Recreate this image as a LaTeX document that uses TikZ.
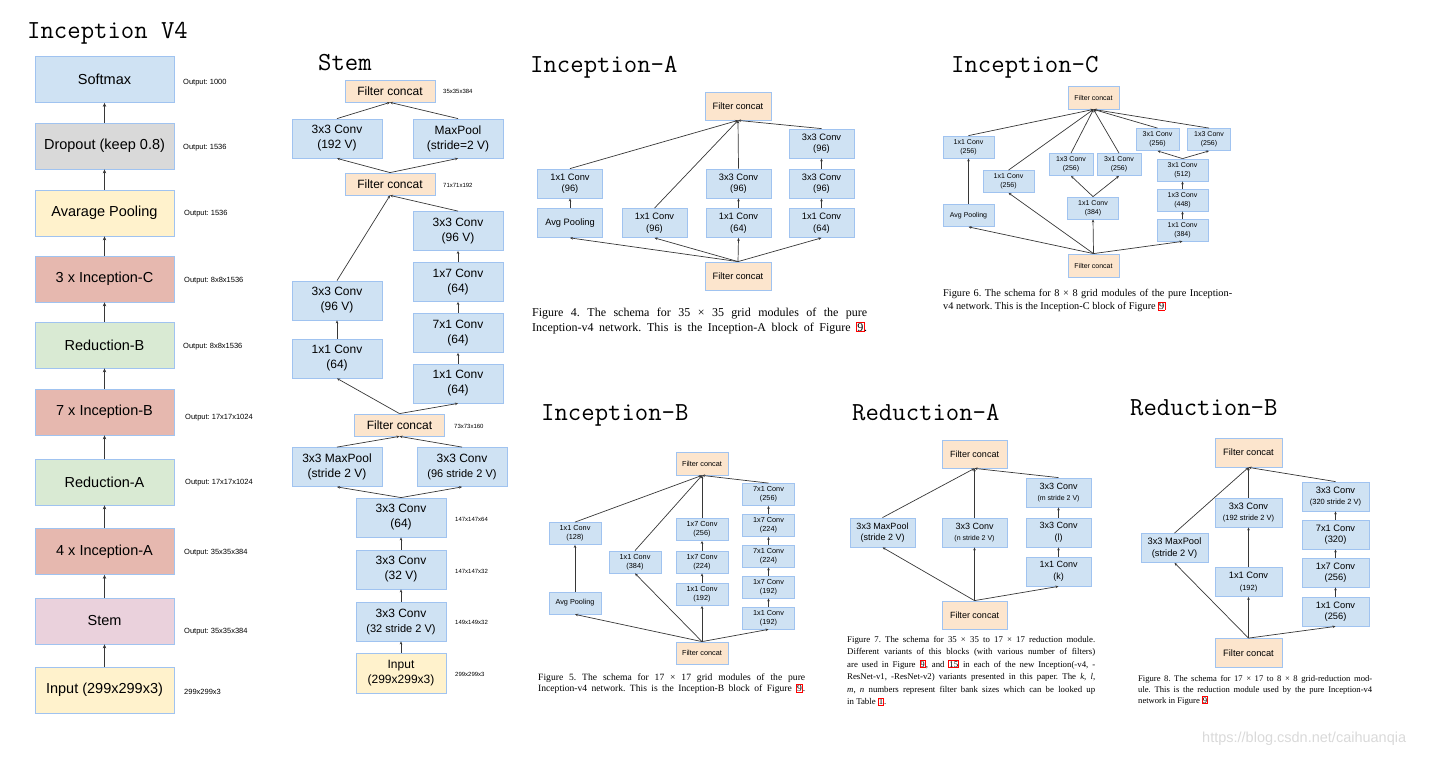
\documentclass[tikz,border=0pt]{standalone}
\usepackage{fontspec}
\setmainfont{Liberation Serif}
\setsansfont{Liberation Sans}
\usetikzlibrary{arrows.meta}
\definecolor{bordc}{RGB}{160,195,240}
\definecolor{convc}{RGB}{207,226,243}
\definecolor{catc}{RGB}{252,229,205}
\definecolor{dropc}{RGB}{217,217,217}
\definecolor{poolc}{RGB}{255,242,204}
\definecolor{incc}{RGB}{230,184,175}
\definecolor{redc}{RGB}{217,234,211}
\definecolor{stemc}{RGB}{234,209,220}
\definecolor{linec}{RGB}{55,55,55}
\frenchspacing
\newcommand{\figref}[1]{{\color{red}\fboxsep=0.3pt\fboxrule=0.6pt\fbox{\color{black}#1}}}
\newcommand{\capline}[2]{\makebox[#1][s]{#2}}
\begin{document}
\begin{tikzpicture}[x=1pt,y=-1pt,
    blk/.style={draw=bordc, line width=0.8pt, fill=convc, inner sep=0pt, align=center},
    v4box/.style={blk, minimum width=139pt, minimum height=46pt, font=\sffamily\fontsize{14.5}{17}\selectfont},
    stembox/.style={blk, minimum width=90pt, minimum height=39pt, font=\sffamily\fontsize{12}{15}\selectfont},
    abox/.style={blk, minimum width=65pt, minimum height=29pt, font=\sffamily\fontsize{9.3}{11.5}\selectfont},
    bbox/.style={blk, minimum width=52pt, minimum height=22pt, font=\sffamily\fontsize{7.3}{9}\selectfont},
    cbox/.style={blk, minimum width=51pt, minimum height=22pt, font=\sffamily\fontsize{7}{8.7}\selectfont},
    mbox/.style={blk, minimum width=65pt, minimum height=29pt, font=\sffamily\fontsize{9}{11.5}\selectfont},
    nbox/.style={blk, minimum width=67pt, minimum height=29pt, font=\sffamily\fontsize{9.3}{11.5}\selectfont},
    concat/.style={fill=catc},
    arr/.style={draw=linec, line width=0.9pt, -{Stealth[length=4pt,width=3.5pt]}},
    sarr/.style={draw=linec, line width=0.7pt, -{Stealth[length=3pt,width=2.6pt]}},
    ttl/.style={anchor=west, inner sep=0pt, font=\ttfamily\fontsize{26}{29}\selectfont},
    outl/.style={anchor=west, inner sep=0pt, font=\sffamily\fontsize{7.5}{9}\selectfont},
    szl/.style={anchor=west, inner sep=0pt, font=\sffamily\fontsize{6}{7}\selectfont},
    capt/.style={anchor=base west, inner sep=0pt}]
\useasboundingbox (0,0) rectangle (1435,757);

% titles
\node[ttl] (TV) at (27,33) {Inception V4};
\node[ttl] (TS) at (318,63) {Stem};
\node[ttl] (TA) at (530,67) {Inception-A};
\node[ttl] (TC) at (951,67) {Inception-C};
\node[ttl] (TB) at (541,415) {Inception-B};
\node[ttl] (TM) at (852,413) {Reduction-A};
\node[ttl] (TN) at (1130,408) {Reduction-B};

% Inception V4
\node[v4box] (VA) at (104.5,79.5) {Softmax};
\node[v4box, fill=dropc] (VB) at (104.5,146) {Dropout (keep 0.8)};
\node[v4box, fill=poolc] (VC) at (104.5,213) {Avarage Pooling};
\node[v4box, fill=incc] (VD) at (104.5,279) {3 x Inception-C};
\node[v4box, fill=redc] (VE) at (104.5,345) {Reduction-B};
\node[v4box, fill=incc] (VF) at (104.5,412) {7 x Inception-B};
\node[v4box, fill=redc] (VG) at (104.5,482) {Reduction-A};
\node[v4box, fill=incc] (VH) at (104.5,551.5) {4 x Inception-A};
\node[v4box, fill=stemc] (VI) at (104.5,621) {Stem};
\node[v4box, fill=poolc] (VJ) at (104.5,690) {Input (299x299x3)};

\node[outl] (VLA) at (183,83) {Output: 1000};
\node[outl] (VLB) at (183,148) {Output: 1536};
\node[outl] (VLC) at (184,214) {Output: 1536};
\node[outl] (VLD) at (184,281) {Output: 8x8x1536};
\node[outl] (VLE) at (183,347) {Output: 8x8x1536};
\node[outl] (VLF) at (185,418) {Output: 17x17x1024};
\node[outl] (VLG) at (185,483) {Output: 17x17x1024};
\node[outl] (VLH) at (184,553) {Output: 35x35x384};
\node[outl] (VLI) at (184,632) {Output: 35x35x384};
\node[outl] (VLJ) at (184,692) {299x299x3};

\draw[arr] (VJ)--(VI);
\draw[arr] (VI)--(VH);
\draw[arr] (VH)--(VG);
\draw[arr] (VG)--(VF);
\draw[arr] (VF)--(VE);
\draw[arr] (VE)--(VD);
\draw[arr] (VD)--(VC);
\draw[arr] (VC)--(VB);
\draw[arr] (VB)--(VA);

% Stem
\node[stembox, concat, minimum height=22pt] (SA) at (390,91) {Filter concat};
\node[stembox] (SB) at (337,138.5) {3x3 Conv\\(192 V)};
\node[stembox] (SC) at (458,138.5) {MaxPool\\(stride=2 V)};
\node[stembox, concat, minimum height=22pt] (SD) at (390,184) {Filter concat};
\node[stembox] (SE) at (458,231) {3x3 Conv\\(96 V)};
\node[stembox] (SF) at (458,282) {1x7 Conv\\(64)};
\node[stembox] (SG) at (458,333) {7x1 Conv\\(64)};
\node[stembox] (SH) at (458,383.5) {1x1 Conv\\(64)};
\node[stembox] (SI) at (337,300.5) {3x3 Conv\\(96 V)};
\node[stembox] (SJ) at (337,358.5) {1x1 Conv\\(64)};
\node[stembox, concat, minimum height=22pt] (SK) at (399.5,425) {Filter concat};
\node[stembox] (SL) at (337,467) {3x3 MaxPool\\(stride 2 V)};
\node[stembox] (SM) at (462,467) {3x3 Conv\\{\fontsize{11}{14}\selectfont(96 stride 2 V)}};
\node[stembox] (SN) at (401,517.5) {3x3 Conv\\(64)};
\node[stembox] (SO) at (401,569.5) {3x3 Conv\\(32 V)};
\node[stembox] (SP) at (401,621.5) {3x3 Conv\\{\fontsize{11}{14}\selectfont(32 stride 2 V)}};
\node[stembox, fill=poolc, minimum height=40pt] (SQ) at (401,673) {Input\\(299x299x3)};

\node[szl] (SLA) at (443,91) {35x35x384};
\node[szl] (SLD) at (443,185) {71x71x192};
\node[szl] (SLK) at (454,426) {73x73x160};
\node[szl] (SLN) at (455,519) {147x147x64};
\node[szl] (SLO) at (455,571) {147x147x32};
\node[szl] (SLP) at (455,622) {149x149x32};
\node[szl] (SLQ) at (455,674) {299x299x3};

\draw[sarr] (SQ)--(SP);
\draw[sarr] (SP)--(SO);
\draw[sarr] (SO)--(SN);
\draw[sarr] (SN.north)--(SL.south);
\draw[sarr] (SN.north)--(SM.south);
\draw[sarr] (SL.north)--(SK.south);
\draw[sarr] (SM.north)--(SK.south);
\draw[sarr] (SK.north)--(SJ.south);
\draw[sarr] (SK.north)--(SH.south);
\draw[sarr] (SJ)--(SI);
\draw[sarr] (SH)--(SG);
\draw[sarr] (SG)--(SF);
\draw[sarr] (SF)--(SE);
\draw[sarr] (SI.north)--(SD.south);
\draw[sarr] (SE.north)--(SD.south);
\draw[sarr] (SD.north)--(SB.south);
\draw[sarr] (SD.north)--(SC.south);
\draw[sarr] (SB.north)--(SA.south);
\draw[sarr] (SC.north)--(SA.south);

% Inception-A
\node[abox, concat, minimum width=66pt, minimum height=28pt] (AA) at (738,106) {Filter concat};
\node[abox] (AB) at (821.5,143.5) {3x3 Conv\\(96)};
\node[abox] (AC) at (570,183.5) {1x1 Conv\\(96)};
\node[abox] (AD) at (738.5,183.5) {3x3 Conv\\(96)};
\node[abox] (AE) at (821.5,183.5) {3x3 Conv\\(96)};
\node[abox] (AF) at (570,223) {Avg Pooling};
\node[abox] (AG) at (654.5,223) {1x1 Conv\\(96)};
\node[abox] (AH) at (738.5,223) {1x1 Conv\\(64)};
\node[abox] (AI) at (821.5,223) {1x1 Conv\\(64)};
\node[abox, concat, minimum width=66pt, minimum height=28pt] (AJ) at (738,276) {Filter concat};

\draw[sarr] (AJ.north)--(AF.south);
\draw[sarr] (AJ.north)--(AG.south);
\draw[sarr] (AJ.north)--(AH.south);
\draw[sarr] (AJ.north)--(AI.south);
\draw[sarr] (AF)--(AC);
\draw[sarr] (AH)--(AD);
\draw[sarr] (AI)--(AE);
\draw[sarr] (AE)--(AB);
\draw[sarr] (AC.north)--(AA.south);
\draw[sarr] (AG.north)--(AA.south);
\draw[sarr] (AD.north)--(AA.south);
\draw[sarr] (AB.north)--(AA.south);

\node[capt, font=\fontsize{12}{13}\selectfont] (ACA) at (532,316) {\capline{335pt}{Figure 4. The schema for 35 × 35 grid modules of the pure}};
\node[capt, font=\fontsize{12}{13}\selectfont] (ACB) at (532,331) {\capline{335pt}{Inception-v4 network. This is the Inception-A block of Figure \figref{9}.}};

% Inception-C
\node[cbox, concat, minimum height=23pt] (CA) at (1093.5,97.5) {Filter concat};
\node[cbox] (CB) at (968.5,147) {1x1 Conv\\(256)};
\node[cbox] (CC) at (968.5,215.5) {Avg Pooling};
\node[cbox] (CD) at (1008.5,181.5) {1x1 Conv\\(256)};
\node[cbox, minimum width=44pt] (CE) at (1071,164.5) {1x3 Conv\\(256)};
\node[cbox, minimum width=44pt] (CF) at (1119,164.5) {3x1 Conv\\(256)};
\node[cbox] (CG) at (1093,208) {1x1 Conv\\(384)};
\node[cbox, minimum width=43pt] (CH) at (1157.5,139.5) {3x1 Conv\\(256)};
\node[cbox, minimum width=43pt] (CI) at (1209,139.5) {1x3 Conv\\(256)};
\node[cbox] (CJ) at (1182.5,170) {3x1 Conv\\(512)};
\node[cbox] (CK) at (1182.5,200) {1x3 Conv\\(448)};
\node[cbox] (CL) at (1182.5,230) {1x1 Conv\\(384)};
\node[cbox, concat, minimum height=23pt] (CM) at (1093.5,265.5) {Filter concat};

\draw[sarr] (CM.north)--(CC.south);
\draw[sarr] (CM.north)--(CD.south);
\draw[sarr] (CM.north)--(CG.south);
\draw[sarr] (CM.north)--(CL.south);
\draw[sarr] (CC)--(CB);
\draw[sarr] (CG.north)--(CE.south);
\draw[sarr] (CG.north)--(CF.south);
\draw[sarr] (CL)--(CK);
\draw[sarr] (CK)--(CJ);
\draw[sarr] (CJ.north)--(CH.south);
\draw[sarr] (CJ.north)--(CI.south);
\draw[sarr] (CB.north)--(CA.south);
\draw[sarr] (CD.north)--(CA.south);
\draw[sarr] (CE.north)--(CA.south);
\draw[sarr] (CF.north)--(CA.south);
\draw[sarr] (CH.north)--(CA.south);
\draw[sarr] (CI.north)--(CA.south);

\node[capt, font=\fontsize{10.3}{11}\selectfont] (CCA) at (943,296.5) {\capline{289pt}{Figure 6. The schema for 8 × 8 grid modules of the pure Inception-}};
\node[capt, font=\fontsize{10.3}{11}\selectfont] (CCB) at (943,309.5) {v4 network. This is the Inception-C block of Figure \figref{9}};

% Inception-B
\node[bbox, concat, minimum height=23pt] (BA) at (702,463.5) {Filter concat};
\node[bbox] (BB) at (768.5,494.5) {7x1 Conv\\(256)};
\node[bbox] (BC) at (768.5,525.5) {1x7 Conv\\(224)};
\node[bbox] (BD) at (768.5,556) {7x1 Conv\\(224)};
\node[bbox] (BE) at (768.5,587) {1x7 Conv\\(192)};
\node[bbox] (BF) at (768.5,618) {1x1 Conv\\(192)};
\node[bbox] (BG) at (702,529.5) {1x7 Conv\\(256)};
\node[bbox] (BH) at (702,562) {1x7 Conv\\(224)};
\node[bbox] (BI) at (702,594.5) {1x1 Conv\\(192)};
\node[bbox] (BJ) at (635,562) {1x1 Conv\\(384)};
\node[bbox] (BK) at (575,533.5) {1x1 Conv\\(128)};
\node[bbox] (BL) at (575,603) {Avg Pooling};
\node[bbox, concat] (BM) at (702,653) {Filter concat};

\draw[sarr] (BM.north)--(BL.south);
\draw[sarr] (BM.north)--(BJ.south);
\draw[sarr] (BM.north)--(BI.south);
\draw[sarr] (BM.north)--(BF.south);
\draw[sarr] (BL)--(BK);
\draw[sarr] (BI)--(BH);
\draw[sarr] (BH)--(BG);
\draw[sarr] (BF)--(BE);
\draw[sarr] (BE)--(BD);
\draw[sarr] (BD)--(BC);
\draw[sarr] (BC)--(BB);
\draw[sarr] (BK.north)--(BA.south);
\draw[sarr] (BJ.north)--(BA.south);
\draw[sarr] (BG.north)--(BA.south);
\draw[sarr] (BB.north)--(BA.south);

\node[capt, font=\fontsize{9.6}{10.5}\selectfont] (BCA) at (538,680) {\capline{267pt}{Figure 5. The schema for 17 × 17 grid modules of the pure}};
\node[capt, font=\fontsize{9.6}{10.5}\selectfont] (BCB) at (538,691.5) {\capline{267pt}{Inception-v4 network. This is the Inception-B block of Figure \figref{9}.}};

% Reduction-A
\node[mbox, concat, minimum height=28pt] (MA) at (974.5,454) {Filter concat};
\node[mbox] (MB) at (1058.5,492.5) {3x3 Conv\\{\fontsize{7}{9}\selectfont(m stride 2 V)}};
\node[mbox] (MC) at (1058.5,532.5) {3x3 Conv\\(l)};
\node[mbox] (MD) at (1058.5,571.5) {1x1 Conv\\(k)};
\node[mbox] (ME) at (882.5,532.5) {3x3 MaxPool\\(stride 2 V)};
\node[mbox] (MF) at (974.5,532.5) {3x3 Conv\\{\fontsize{7}{9}\selectfont(n stride 2 V)}};
\node[mbox, concat, minimum height=28pt] (MG) at (974.5,615) {Filter concat};

\draw[sarr] (MG.north)--(ME.south);
\draw[sarr] (MG.north)--(MF.south);
\draw[sarr] (MG.north)--(MD.south);
\draw[sarr] (MD)--(MC);
\draw[sarr] (MC)--(MB);
\draw[sarr] (ME.north)--(MA.south);
\draw[sarr] (MF.north)--(MA.south);
\draw[sarr] (MB.north)--(MA.south);

\node[capt, font=\fontsize{8.8}{10}\selectfont] (MCA) at (847,642) {\capline{248pt}{Figure 7. The schema for 35 × 35 to 17 × 17 reduction module.}};
\node[capt, font=\fontsize{8.8}{10}\selectfont] (MCB) at (847,654.5) {\capline{248pt}{Different variants of this blocks (with various number of filters)}};
\node[capt, font=\fontsize{8.8}{10}\selectfont] (MCC) at (847,667) {\capline{248pt}{are used in Figure \figref{9}, and \figref{15} in each of the new Inception(-v4, -}};
\node[capt, font=\fontsize{8.8}{10}\selectfont] (MCD) at (847,679.5) {\capline{248pt}{ResNet-v1, -ResNet-v2) variants presented in this paper. The \textit{k}, \textit{l},}};
\node[capt, font=\fontsize{8.8}{10}\selectfont] (MCE) at (847,692) {\capline{248pt}{\textit{m}, \textit{n} numbers represent filter bank sizes which can be looked up}};
\node[capt, font=\fontsize{8.8}{10}\selectfont] (MCF) at (847,704.5) {in Table \figref{1}.};

% Reduction-B
\node[nbox, concat] (NA) at (1248.5,452.5) {Filter concat};
\node[nbox] (NB) at (1335.5,496.5) {3x3 Conv\\{\fontsize{7.5}{9}\selectfont(320 stride 2 V)}};
\node[nbox] (NC) at (1335.5,534.5) {7x1 Conv\\(320)};
\node[nbox] (ND) at (1335.5,572.5) {1x7 Conv\\(256)};
\node[nbox] (NE) at (1335.5,611.5) {1x1 Conv\\(256)};
\node[nbox] (NF) at (1248.5,512.5) {3x3 Conv\\{\fontsize{7.5}{9}\selectfont(192 stride 2 V)}};
\node[nbox] (NG) at (1248.5,582) {1x1 Conv\\{\fontsize{7.5}{9}\selectfont(192)}};
\node[nbox] (NH) at (1174.5,548) {3x3 MaxPool\\(stride 2 V)};
\node[nbox, concat] (NI) at (1248.5,653) {Filter concat};

\draw[sarr] (NI.north)--(NH.south);
\draw[sarr] (NI.north)--(NG.south);
\draw[sarr] (NI.north)--(NE.south);
\draw[sarr] (NG)--(NF);
\draw[sarr] (NE)--(ND);
\draw[sarr] (ND)--(NC);
\draw[sarr] (NC)--(NB);
\draw[sarr] (NH.north)--(NA.south);
\draw[sarr] (NF.north)--(NA.south);
\draw[sarr] (NB.north)--(NA.south);

\node[capt, font=\fontsize{8.6}{9.5}\selectfont] (NCA) at (1138,681) {\capline{234pt}{Figure 8. The schema for 17 × 17 to 8 × 8 grid-reduction mod-}};
\node[capt, font=\fontsize{8.6}{9.5}\selectfont] (NCB) at (1138,692) {\capline{234pt}{ule. This is the reduction module used by the pure Inception-v4}};
\node[capt, font=\fontsize{8.6}{9.5}\selectfont] (NCC) at (1138,703) {network in Figure \figref{9}};

% watermark
\node[anchor=west, inner sep=0pt, text=gray!30, font=\sffamily\fontsize{14.5}{17}\selectfont] (WM) at (1202,739) {https://blog.csdn.net/caihuanqia};
\end{tikzpicture}
\end{document}
